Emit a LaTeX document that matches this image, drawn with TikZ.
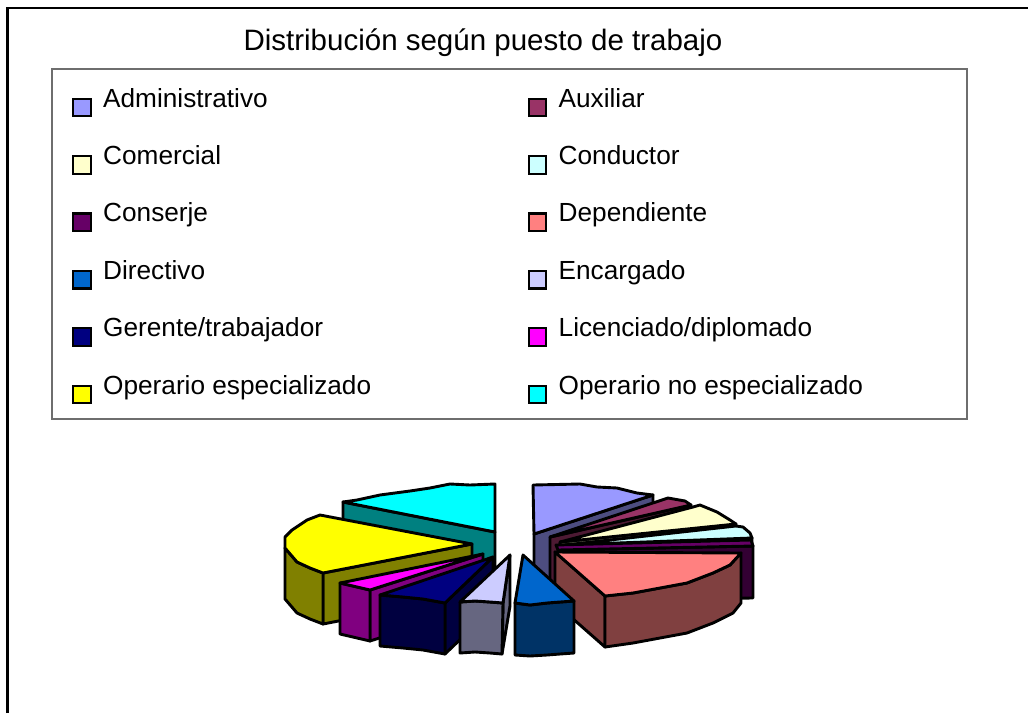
\documentclass[tikz,border=0pt]{standalone}
\usepackage{fontspec}
\setmainfont{Liberation Sans}
\definecolor{admT}{HTML}{9999FF}\definecolor{admS}{HTML}{4D4D80}
\definecolor{auxT}{HTML}{993366}\definecolor{auxS}{HTML}{4D1A33}
\definecolor{comT}{HTML}{FFFFCC}\definecolor{comS}{HTML}{808066}
\definecolor{conT}{HTML}{CCFFFF}\definecolor{conS}{HTML}{668080}
\definecolor{cjeT}{HTML}{660066}\definecolor{cjeS}{HTML}{330033}
\definecolor{depT}{HTML}{FF8080}\definecolor{depS}{HTML}{804040}
\definecolor{dirT}{HTML}{0066CC}\definecolor{dirS}{HTML}{003366}
\definecolor{encT}{HTML}{CCCCFF}\definecolor{encS}{HTML}{666680}
\definecolor{gerT}{HTML}{000080}\definecolor{gerS}{HTML}{000040}
\definecolor{licT}{HTML}{FF00FF}\definecolor{licS}{HTML}{800080}
\definecolor{opeT}{HTML}{FFFF00}\definecolor{opeS}{HTML}{808000}
\definecolor{opnT}{HTML}{00FFFF}\definecolor{opnS}{HTML}{008080}
\definecolor{legframe}{HTML}{6E6E6E}
\tikzset{
  pie/.style={draw=black, line width=2.9pt, line join=round},
  legsq/.style={draw=black, line width=2.2pt, minimum size=17.5pt, inner sep=0pt},
  legtxt/.style={anchor=base west, inner sep=0pt, font=\fontsize{26.2}{30}\selectfont},
  titletxt/.style={anchor=base, inner sep=0pt, font=\fontsize{29.5}{34}\selectfont}
}
\newcommand\legitem[5]{%
  \node[legsq, fill=#4] (sq#1) at (#2,#3+0.5) {};
  \node[legtxt] (lab#1) at (#2+21,#3) {#5};
}
\begin{document}
\begin{tikzpicture}[x=1pt,y=-1pt]
\useasboundingbox (0,0) rectangle (1028,713);
\fill[white] (0,0) rectangle (1028,713);
% outer frame (left and top edges)
\draw[line width=2.8pt] (7.8,713) -- (7.8,8) -- (1028,8);
% title
\node[titletxt] (title) at (483,50) {Distribución según puesto de trabajo};
% legend frame
\draw[legframe, line width=1.4pt] (52,69) rectangle (967,419);
% legend entries
\legitem{a}{82}{107}{admT}{Administrativo}
\legitem{b}{537.5}{107}{auxT}{Auxiliar}
\legitem{c}{82}{164.4}{comT}{Comercial}
\legitem{d}{537.5}{164.4}{conT}{Conductor}
\legitem{e}{82}{221.8}{cjeT}{Conserje}
\legitem{f}{537.5}{221.8}{depT}{Dependiente}
\legitem{g}{82}{279.2}{dirT}{Directivo}
\legitem{h}{537.5}{279.2}{encT}{Encargado}
\legitem{i}{82}{336.6}{gerT}{Gerente/trabajador}
\legitem{j}{537.5}{336.6}{licT}{Licenciado/diplomado}
\legitem{k}{82}{394}{opeT}{Operario especializado}
\legitem{l}{537.5}{394}{opnT}{Operario no especializado}
% ---------- 3D exploded pie ----------
% Administrativo
\filldraw[pie, fill=admS] (534,534) -- (653,495) -- (653,551) -- (534,592) -- cycle;
\filldraw[pie, fill=admT] (534,534) -- (533,485) -- (580,484) -- (597,487) -- (617,488) -- (637,493) -- (653,495) -- cycle;
% Operario no especializado
\filldraw[pie, fill=opnS] (343,502) -- (495,532) -- (495,583) -- (343,553) -- cycle;
\filldraw[pie, fill=opnT] (495,532) -- (343,502) -- (357,500) -- (380,495) -- (410,491) -- (430,488) -- (450,484) -- (470,485) -- (495,484) -- cycle;
% Auxiliar
\filldraw[pie, fill=auxS] (550,537) -- (691,505) -- (691,556) -- (550,588) -- cycle;
\filldraw[pie, fill=auxT] (550,537) -- (668,498) -- (685,501) -- (691,505) -- cycle;
% Comercial
\filldraw[pie, fill=comS] (560,542) -- (736,524) -- (736,575) -- (560,593) -- cycle;
\filldraw[pie, fill=comT] (560,542) -- (693,507) -- (700,505) -- (717,512) -- (730,520) -- (736,524) -- cycle;
% Conductor
\filldraw[pie, fill=conS] (565,545) -- (752,538) -- (752,589) -- (565,596) -- cycle;
\filldraw[pie, fill=conT] (565,545) -- (736,526) -- (743,527) -- (750,533) -- (752,538) -- cycle;
% Conserje
\filldraw[pie, fill=cjeS] (558,550) -- (753,546) -- (753,598) -- (558,600) -- cycle;
\filldraw[pie, fill=cjeT] (556,545) -- (751,540) -- (753,546) -- (558,550) -- cycle;
% Operario especializado
\filldraw[pie, fill=opeS] (323,573) -- (472,544) -- (472,595) -- (323,624) -- cycle;
\filldraw[pie, fill=opeS] (285,548) -- (297,562) -- (310,568) -- (323,573) -- (323,624) -- (310,619) -- (297,613) -- (285,599) -- cycle;
\filldraw[pie, fill=opeT] (472,544) -- (323,573) -- (310,568) -- (297,562) -- (285,548) -- (285,537) -- (292,530) -- (307,520) -- (320,515) -- cycle;
% Licenciado/diplomado
\filldraw[pie, fill=licS] (370,590) -- (483,554) -- (483,605) -- (370,641) -- cycle;
\filldraw[pie, fill=licS] (340,583) -- (370,590) -- (370,641) -- (340,634) -- cycle;
\filldraw[pie, fill=licT] (483,554) -- (370,590) -- (340,583) -- cycle;
% Gerente/trabajador
\filldraw[pie, fill=gerS] (445,603) -- (493,557) -- (493,608) -- (445,654) -- cycle;
\filldraw[pie, fill=gerS] (380,595) -- (403,597) -- (423,599) -- (445,603) -- (445,654) -- (423,650) -- (403,648) -- (380,646) -- cycle;
\filldraw[pie, fill=gerT] (493,557) -- (445,603) -- (423,599) -- (403,597) -- (380,595) -- cycle;
% Dependiente
\filldraw[pie, fill=depS] (555,552) -- (605,596) -- (605,647) -- (555,603) -- cycle;
\filldraw[pie, fill=depS] (605,596) -- (633,593) -- (660,588) -- (687,583) -- (713,573) -- (730,565) -- (741,553) -- (741,603) -- (733,613) -- (713,623) -- (687,633) -- (660,638) -- (633,643) -- (605,647) -- cycle;
\filldraw[pie, fill=depT] (555,552) -- (741,553) -- (730,565) -- (713,573) -- (687,583) -- (660,588) -- (633,593) -- (605,596) -- cycle;
% Encargado
\filldraw[pie, fill=encS] (503,603) -- (510,555) -- (510,606) -- (502,654) -- cycle;
\filldraw[pie, fill=encS] (460,602) -- (475,601) -- (490,602) -- (503,603) -- (502,654) -- (490,653) -- (475,652) -- (460,653) -- cycle;
\filldraw[pie, fill=encT] (510,555) -- (503,603) -- (490,602) -- (475,601) -- (460,602) -- cycle;
% Directivo
\filldraw[pie, fill=dirS] (515,603) -- (530,605) -- (547,603) -- (560,602) -- (574,601) -- (574,653) -- (560,654) -- (547,655) -- (530,656) -- (515,655) -- cycle;
\filldraw[pie, fill=dirT] (523,555) -- (574,601) -- (560,602) -- (547,603) -- (530,605) -- (515,603) -- cycle;
\end{tikzpicture}
\end{document}
